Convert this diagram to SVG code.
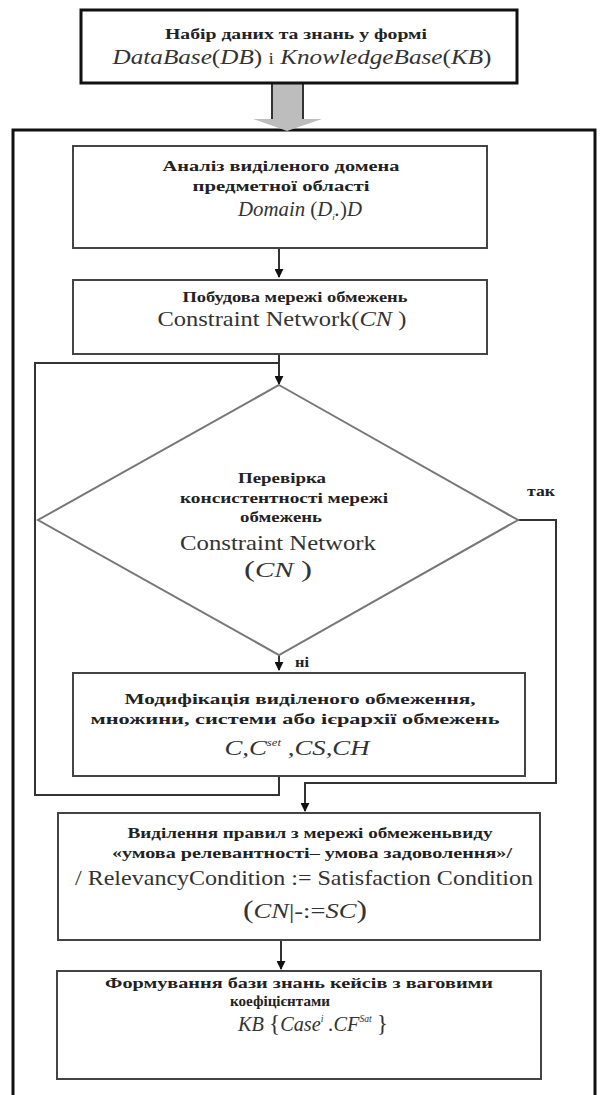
<svg xmlns="http://www.w3.org/2000/svg" width="602" height="1095" viewBox="0 0 602 1095">
<style>
.box{fill:#fff;stroke:#444;stroke-width:2}
.frame{fill:none;stroke:#111;stroke-width:3}
.ln{fill:none;stroke:#333;stroke-width:2}
text{font-family:"Liberation Serif",Tinos,"Times New Roman",Times,"DejaVu Serif","Noto Serif",serif}
.b{font-weight:bold;font-size:15px;fill:#222;text-anchor:middle}
.f{font-size:21px;fill:#333;text-anchor:middle}
.i{font-style:italic}
.sup{font-size:10px}
</style>
<defs>
<marker id="ah" viewBox="0 0 10 10" refX="9" refY="5" markerWidth="9" markerHeight="9" markerUnits="userSpaceOnUse" orient="auto">
<path d="M0,0 L10,5 L0,10 z" fill="#111"/>
</marker>
</defs>
<rect width="602" height="1095" fill="#fff"/>
<g id="outer-frame">
<path class="frame" d="M13,1100 V130 H595 V1100"/>
</g>
<g id="connectors">
<path d="M272,84 V119 H253 L287,131 L322,119 H303 V84 Z" fill="#bdbdbd" stroke="none"/>
<path d="M272,84 V119 M303,84 V119" stroke="#333" stroke-width="2" fill="none"/>
<path class="ln" d="M279,248 V277" marker-end="url(#ah)"/>
<path class="ln" d="M279,354 V384" marker-end="url(#ah)"/>
<path class="ln" d="M279,776 V795 H35 V363 H279"/>
<path class="ln" d="M279,655 V670" marker-end="url(#ah)"/>
<path class="ln" d="M518,520 H556 V783 H305 V811" marker-end="url(#ah)"/>
<path class="ln" d="M281,940 V969" marker-end="url(#ah)"/>
</g>
<g id="node-input">
<rect x="81" y="10" width="436" height="73" fill="#fff" stroke="#111" stroke-width="3"/>
<text class="b" x="296" y="39" textLength="262" lengthAdjust="spacingAndGlyphs">Набір даних та знань у формі</text>
<text class="f i" x="302" y="64" textLength="379" lengthAdjust="spacingAndGlyphs">DataBase<tspan font-style="normal">(</tspan>DB<tspan font-style="normal">)</tspan> <tspan font-style="normal" font-size="16">і</tspan> KnowledgeBase<tspan font-style="normal">(</tspan>KB<tspan font-style="normal">)</tspan></text>
</g>
<g id="node-domain">
<rect class="box" x="73" y="146" width="414" height="102"/>
<text class="b" x="281" y="171" textLength="237" lengthAdjust="spacingAndGlyphs">Аналіз виділеного домена</text>
<text class="b" x="281" y="191" textLength="177" lengthAdjust="spacingAndGlyphs">предметної області</text>
<text class="f i" x="300" y="216" textLength="124" lengthAdjust="spacingAndGlyphs">Domain <tspan font-style="normal">(</tspan>D<tspan font-size="9" dy="4">i</tspan><tspan dy="-4">.</tspan><tspan font-style="normal">)</tspan>D</text>
</g>
<g id="node-network">
<rect class="box" x="73" y="280" width="414" height="74"/>
<text class="b" x="295" y="302" textLength="225" lengthAdjust="spacingAndGlyphs">Побудова мережі обмежень</text>
<text class="f" x="282" y="326" textLength="249" lengthAdjust="spacingAndGlyphs">Constraint Network<tspan>(</tspan><tspan class="i">CN</tspan><tspan> )</tspan></text>
</g>
<g id="node-check">
<polygon points="279,385 518,520 279,655 38,520" fill="#fff" stroke="#777" stroke-width="2"/>
<text class="b" x="282" y="483" textLength="88" lengthAdjust="spacingAndGlyphs">Перевірка</text>
<text class="b" x="284" y="503" textLength="208" lengthAdjust="spacingAndGlyphs">консистентності мережі</text>
<text class="b" x="281" y="522" textLength="82" lengthAdjust="spacingAndGlyphs">обмежень</text>
<text class="f" x="278" y="550" textLength="196" lengthAdjust="spacingAndGlyphs">Constraint Network</text>
<text class="f" x="278" y="577" textLength="68" lengthAdjust="spacingAndGlyphs"><tspan font-size="24">(</tspan><tspan class="i">CN</tspan> <tspan font-size="24">)</tspan></text>
</g>
<text class="b" x="541" y="496" textLength="28" lengthAdjust="spacingAndGlyphs">так</text>
<text class="b" x="302" y="667" textLength="14" lengthAdjust="spacingAndGlyphs">ні</text>
<g id="node-modify">
<rect class="box" x="73" y="673" width="452" height="103"/>
<text class="b" x="300" y="704" textLength="351" lengthAdjust="spacingAndGlyphs">Модифікація виділеного обмеження,</text>
<text class="b" x="295" y="724" textLength="409" lengthAdjust="spacingAndGlyphs">множини, системи або ієрархії обмежень</text>
<text class="f i" x="297" y="755" textLength="145" lengthAdjust="spacingAndGlyphs">C,C<tspan class="sup" dy="-9">set</tspan><tspan dy="9"> ,CS,CH</tspan></text>
</g>
<g id="node-rules">
<rect class="box" x="58" y="813" width="482" height="127"/>
<text class="b" x="310" y="838" textLength="365" lengthAdjust="spacingAndGlyphs">Виділення правил з мережі обмеженьвиду</text>
<text class="b" x="312" y="858" textLength="400" lengthAdjust="spacingAndGlyphs">«умова релевантності– умова задоволення»/</text>
<text class="f" x="304" y="885" textLength="458" lengthAdjust="spacingAndGlyphs">/ RelevancyCondition := Satisfaction Condition</text>
<text class="f" x="305" y="918" textLength="124" lengthAdjust="spacingAndGlyphs"><tspan font-size="25">(</tspan><tspan class="i">CN</tspan>|-:=<tspan class="i">SC</tspan><tspan font-size="25">)</tspan></text>
</g>
<g id="node-kb">
<rect class="box" x="57" y="971" width="484" height="108"/>
<text class="b" x="299" y="988" textLength="388" lengthAdjust="spacingAndGlyphs">Формування бази знань кейсів з ваговими</text>
<text class="b" x="280" y="1006" textLength="100" lengthAdjust="spacingAndGlyphs">коефіцієнтами</text>
<text class="f i" x="313" y="1031" textLength="150" lengthAdjust="spacingAndGlyphs">KB <tspan font-style="normal" font-size="24">{</tspan>Case<tspan class="sup" dy="-9">i</tspan><tspan dy="9"> .CF</tspan><tspan class="sup" dy="-9">Sat</tspan><tspan dy="9"> </tspan><tspan font-style="normal" font-size="24">}</tspan></text>
</g>
</svg>
